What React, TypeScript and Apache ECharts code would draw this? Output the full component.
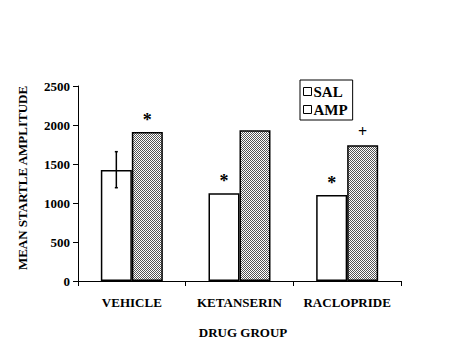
import React, { useEffect, useRef } from "react";
import * as echarts from "echarts";

const categories = ["VEHICLE", "KETANSERIN", "RACLOPRIDE"];
const salValues = [1423, 1124, 1103];
const ampValues = [1910, 1932, 1740];
const salMarks = ["", "*", "*"];
const ampMarks = ["*", "", "+"];
const salErrHigh = [1658, null, null];
const salErrLow = [1196, null, null];
const yTicks = { min: 0, max: 2500, interval: 500 };

const FONT = "'Liberation Serif', 'Times New Roman', serif";

function makePattern() {
  const c = document.createElement("canvas");
  c.width = 2;
  c.height = 2;
  const ctx = c.getContext("2d")!;
  ctx.fillStyle = "#ffffff";
  ctx.fillRect(0, 0, 2, 2);
  ctx.fillStyle = "#555555";
  ctx.fillRect(0, 0, 1, 1);
  ctx.fillRect(1, 1, 1, 1);
  return c;
}

export default function App() {
  const ref = useRef<HTMLDivElement>(null);
  useEffect(() => {
    if (!ref.current) return;
    const chart = echarts.init(ref.current, null, { renderer: "svg" });
    const pattern = makePattern();
    const BAR_W = 31;
    // marks: [categoryIndex, value, side(-1 SAL / +1 AMP), text]
    const marks: any[] = [];
    categories.forEach((c, i) => {
      if (salMarks[i]) marks.push([i, salValues[i], -1, salMarks[i]]);
      if (ampMarks[i]) marks.push([i, ampValues[i], 1, ampMarks[i]]);
    });
    chart.setOption({
      animation: false,
      backgroundColor: "#fff",
      grid: { left: 78, right: 75, top: 86, bottom: 76 },
      legend: {
        left: 300,
        top: 80,
        orient: "vertical",
        icon: "rect",
        itemWidth: 8,
        itemHeight: 8,
        itemGap: 3,
        padding: [4, 5, 3, 3],
        borderColor: "#000",
        borderWidth: 1,
        textStyle: { fontFamily: FONT, fontWeight: "bold", fontSize: 15, color: "#000", padding: [0, 0, 0, -3] },
        data: [
          { name: "SAL", itemStyle: { color: "#fff", borderColor: "#000", borderWidth: 1 } },
          { name: "AMP", itemStyle: { color: "#fff", borderColor: "#000", borderWidth: 1 } },
        ],
      },
      xAxis: {
        type: "category",
        data: categories,
        axisLine: { lineStyle: { color: "#000", width: 1 } },
        axisTick: { show: true, length: 5, lineStyle: { color: "#000" } },
        axisLabel: { interval: 0, fontFamily: FONT, fontWeight: "bold", fontSize: 13, color: "#000", margin: 15 },
      },
      yAxis: {
        type: "value",
        min: yTicks.min,
        max: yTicks.max,
        interval: yTicks.interval,
        splitLine: { show: false },
        axisLine: { show: true, lineStyle: { color: "#000", width: 1 } },
        axisTick: { show: true, length: 5, lineStyle: { color: "#000" } },
        axisLabel: {
          formatter: (v: number) => String(v),
          fontFamily: FONT,
          fontWeight: "bold",
          fontSize: 13,
          color: "#000",
          margin: 8,
        },
      },
      graphic: [
        {
          type: "text",
          x: 22,
          y: 178,
          rotation: Math.PI / 2,
          style: {
            text: "MEAN STARTLE AMPLITUDE",
            fontFamily: FONT,
            fontWeight: "bold",
            fontSize: 13,
            fill: "#000",
            align: "center",
            verticalAlign: "middle",
          },
        },
        {
          type: "text",
          x: 243,
          y: 332,
          style: {
            text: "DRUG GROUP",
            fontFamily: FONT,
            fontWeight: "bold",
            fontSize: 13,
            fill: "#000",
            align: "center",
            verticalAlign: "middle",
          },
        },
      ],
      series: [
        {
          name: "SAL",
          type: "bar",
          barWidth: BAR_W,
          barGap: "0%",
          itemStyle: { color: "#fff", borderColor: "#000", borderWidth: 1.5 },
          data: salValues,
          z: 2,
        },
        {
          name: "AMP",
          type: "bar",
          barWidth: BAR_W,
          barGap: "0%",
          itemStyle: {
            color: { image: pattern, repeat: "repeat" },
            borderColor: "#000",
            borderWidth: 1.5,
          },
          data: ampValues,
          z: 2,
        },
        {
          type: "custom",
          name: "err",
          z: 5,
          data: categories
            .map((c, i) => [i, salErrLow[i], salErrHigh[i]])
            .filter((d) => d[1] != null),
          renderItem: (params: any, api: any) => {
            const i = api.value(0);
            const lo = api.coord([i, api.value(1)]);
            const hi = api.coord([i, api.value(2)]);
            const x = lo[0] - BAR_W / 2;
            const style = { stroke: "#000", lineWidth: 1.5 };
            return {
              type: "group",
              children: [
                { type: "line", shape: { x1: x, y1: hi[1], x2: x, y2: lo[1] }, style },
                { type: "line", shape: { x1: x - 1.5, y1: hi[1], x2: x + 1.5, y2: hi[1] }, style },
                { type: "line", shape: { x1: x - 1.5, y1: lo[1], x2: x + 1.5, y2: lo[1] }, style },
              ],
            };
          },
        },
        {
          type: "custom",
          name: "marks",
          z: 6,
          data: marks,
          renderItem: (params: any, api: any) => {
            const m = marks[params.dataIndex];
            const p = api.coord([m[0], m[1]]);
            const x = p[0] + (m[2] * BAR_W) / 2;
            const isPlus = m[3] === "+";
            return {
              type: "text",
              x,
              y: p[1] - (isPlus ? 6 : 3),
              style: {
                text: m[3],
                fill: "#000",
                fontFamily: FONT,
                fontWeight: "bold",
                fontSize: isPlus ? 16 : 18,
                align: "center",
                verticalAlign: "bottom",
              },
            };
          },
        },
      ],
    });
    return () => chart.dispose();
  }, []);
  return (
    <div
      ref={ref}
      style={{ width: 476, height: 357, position: "fixed", left: 0, top: 0, background: "#fff" }}
    />
  );
}
